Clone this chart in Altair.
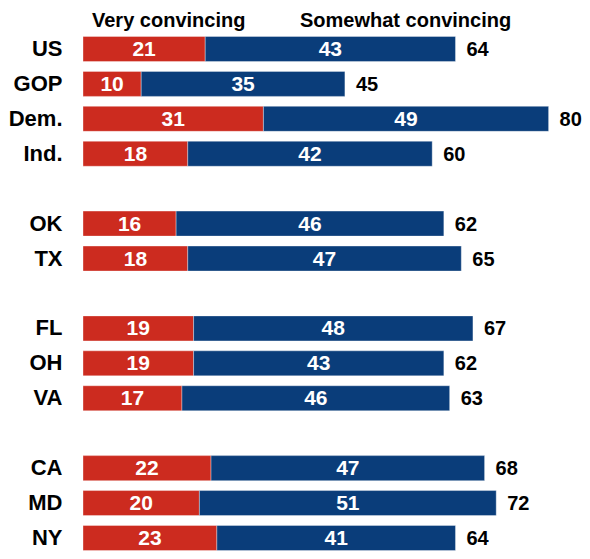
import altair as alt
import pandas as pd

rows = ["US", "GOP", "Dem.", "Ind.", " ", "OK", "TX", "  ", "FL", "OH", "VA", "   ", "CA", "MD", "NY"]
groups = ["US", "GOP", "Dem.", "Ind.", "OK", "TX", "FL", "OH", "VA", "CA", "MD", "NY"]
very = [21, 10, 31, 18, 16, 18, 19, 19, 17, 22, 20, 23]
somewhat = [43, 35, 49, 42, 46, 47, 48, 43, 46, 47, 51, 41]
totals = [64, 45, 80, 60, 62, 65, 67, 62, 63, 68, 72, 64]
series = ["Very convincing", "Somewhat convincing"]
colors = ["#CC2B1F", "#0A3D7A"]

wide = pd.DataFrame({"row": groups, "very": very, "somewhat": somewhat, "total": totals})
long = pd.concat([
    pd.DataFrame({"row": groups, "series": series[0], "value": very, "order": 0}),
    pd.DataFrame({"row": groups, "series": series[1], "value": somewhat, "order": 1}),
])

FONT = "Liberation Sans"
STEP = 34.93
PX = 5.82
y_enc = alt.Y("row:N", sort=rows,
              scale=alt.Scale(domain=rows, paddingInner=0.284, paddingOuter=0.142),
              axis=alt.Axis(title=None, ticks=False, domain=False, labelPadding=21,
                            labelFont=FONT, labelFontSize=22, labelFontWeight="bold",
                            labelColor="#000000"))
x_scale = alt.Scale(domain=[0, 85], nice=False, zero=True)

bars = alt.Chart(long).mark_bar(strokeWidth=1, stroke="#ffffff", strokeOpacity=0.35).encode(
    y=y_enc,
    x=alt.X("value:Q", stack="zero", scale=x_scale, axis=None),
    color=alt.Color("series:N", scale=alt.Scale(domain=series, range=colors), legend=None),
    order=alt.Order("order:Q"),
)

base = alt.Chart(wide).encode(y=alt.Y("row:N", sort=rows, scale=alt.Scale(domain=rows)))

very_lbl = base.transform_calculate(mid="datum.very / 2").mark_text(
    font=FONT, fontSize=21, fontWeight="bold", color="white", baseline="middle", dy=1
).encode(x=alt.X("mid:Q", scale=x_scale), text="very:Q")

some_lbl = base.transform_calculate(mid="datum.very + datum.somewhat / 2").mark_text(
    font=FONT, fontSize=21, fontWeight="bold", color="white", baseline="middle", dy=1
).encode(x=alt.X("mid:Q", scale=x_scale), text="somewhat:Q")

tot_lbl = base.transform_calculate(end="datum.very + datum.somewhat").mark_text(
    font=FONT, fontSize=20, fontWeight="bold", color="#000000", align="left",
    baseline="middle", dx=11, dy=1
).encode(x=alt.X("end:Q", scale=x_scale), text="total:Q")

hdr = pd.DataFrame({"label": series, "px": [9, 217]})
headers = alt.Chart(hdr).mark_text(
    font=FONT, fontSize=20, fontWeight="bold", color="#000000", align="left", baseline="middle"
).encode(x=alt.X("px:Q", scale=None), y=alt.value(-10.5), text="label:N")

W = 85 * PX
H = 15 * STEP
chart = alt.layer(bars, very_lbl, some_lbl, tot_lbl, headers).resolve_scale(
    y="shared"
).properties(
    width=W, height=H,
    padding={"left": 75, "top": 23.5, "right": 574 - 75 - W, "bottom": 543 - 23.5 - H},
    autosize=alt.AutoSizeParams(type="none"),
).configure_view(stroke=None)

chart.save("out.html", embed_options={"renderer": "svg", "actions": False})
